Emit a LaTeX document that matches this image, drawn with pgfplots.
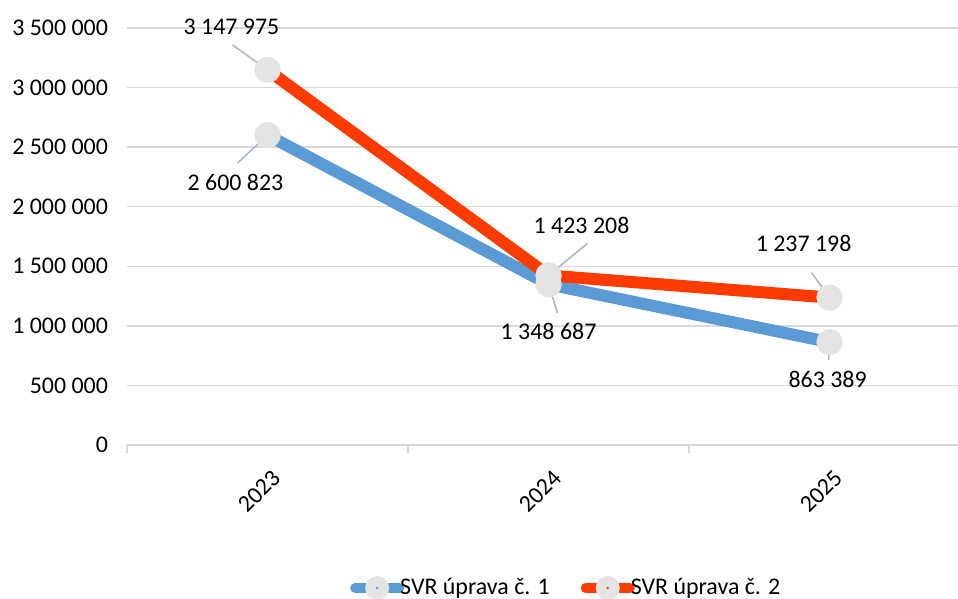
\documentclass[border=0pt]{standalone}
\usepackage{pgfplots}
\pgfplotsset{compat=1.18}
\usepackage{fontspec}
\setmainfont{Carlito}
\usetikzlibrary{calc}
\definecolor{sblue}{HTML}{5B9BD5}
\definecolor{sred}{HTML}{FF3B00}
\definecolor{mgray}{HTML}{E4E4E4}
\definecolor{gridc}{HTML}{D9D9D9}
\definecolor{lead}{HTML}{A9B6C8}
\newcommand{\lbl}{\fontsize{12}{14}\selectfont}
\begin{document}
\begin{tikzpicture}
\begin{axis}[
  scale only axis, width=415.5bp, height=208.5bp,
  xmin=-0.5, xmax=2.457, ymin=0, ymax=3500000,
  clip=false,
  axis x line*=bottom, axis y line*=left,
  y axis line style={draw=none},
  x axis line style={gridc, line width=0.75bp},
  ymajorgrids, grid style={gridc, line width=0.75bp},
  ytick={0,500000,1000000,1500000,2000000,2500000,3000000,3500000},
  yticklabels={0,500 000,1 000 000,1 500 000,2 000 000,2 500 000,3 000 000,3 500 000},
  scaled y ticks=false,
  ytick style={draw=none},
  yticklabel style={anchor=east, xshift=-6bp},
  xtick={0,1,2}, xticklabels={2023,2024,2025},
  xtick style={draw=none},
  xticklabel style={rotate=45, anchor=north east, xshift=-3.6bp, yshift=-6.1bp},
  extra x ticks={-0.5,0.5,1.5,2.5}, extra x tick labels={},
  extra x tick style={tick align=outside, major tick length=4bp, xtick style={draw=gridc, line width=0.75bp}, xmajorgrids=false},
  every tick label/.append style={font=\lbl, text=black},
  legend style={at={(0.528,-0.343)}, anchor=center, draw=none, fill=none, font=\lbl,
    nodes={inner sep=0.5bp},
    legend columns=2, /tikz/every even column/.append style={column sep=15bp}},
]
\addplot[sblue, line width=6bp, line cap=round, line join=round, mark=*, mark size=6.5bp,
  mark options={draw=mgray, fill=mgray, line width=0.1bp},
  legend image code/.code={\path[draw=sblue, line width=5bp, line cap=round] (0bp,0bp) -- (22bp,0bp);
    \path[fill=mgray, draw=none] (11bp,0bp) circle (6bp); \path[fill=sblue, draw=none] (11bp,0bp) circle (0.7bp);}]
  coordinates {(0,2600823) (1,1348687) (2,863389)};
\addlegendentry{\hspace{-2.5bp}SVR úprava č. 1}
\addplot[sred, line width=6bp, line cap=round, line join=round, mark=*, mark size=6.5bp,
  mark options={draw=mgray, fill=mgray, line width=0.1bp},
  legend image code/.code={\path[draw=sred, line width=5bp, line cap=round] (0bp,0bp) -- (22bp,0bp);
    \path[fill=mgray, draw=none] (11bp,0bp) circle (6bp); \path[fill=sred, draw=none] (11bp,0bp) circle (0.7bp);}]
  coordinates {(0,3147975) (1,1423208) (2,1237198)};
\addlegendentry{\hspace{-2.5bp}SVR úprava č. 2}
% leader lines
\draw[lead, line width=0.75bp] (axis cs:0,3147975) -- ++(-17.5bp,12.5bp);
\draw[lead, line width=0.75bp] (axis cs:0,2600823) -- ++(-15bp,-14bp);
\draw[lead, line width=0.75bp] (axis cs:1,1423208) -- ++(19.5bp,16bp);
\draw[lead, line width=0.75bp] (axis cs:1,1348687) -- ++(4.5bp,-14.5bp);
\draw[lead, line width=0.75bp] (axis cs:2,1237198) -- ++(-9bp,12.5bp);
\draw[lead, line width=0.75bp] (axis cs:2,863389) -- ++(-0.5bp,-9bp);
% data labels
\node[font=\lbl, xshift=-18bp, yshift=21.5bp] at (axis cs:0,3147975) {3 147 975};
\node[font=\lbl, xshift=-16bp, yshift=-23.5bp] at (axis cs:0,2600823) {2 600 823};
\node[font=\lbl, xshift=16.5bp, yshift=25bp] at (axis cs:1,1423208) {1 423 208};
\node[font=\lbl, xshift=0bp, yshift=-23.5bp] at (axis cs:1,1348687) {1 348 687};
\node[font=\lbl, xshift=-13bp, yshift=27bp] at (axis cs:2,1237198) {1 237 198};
\node[font=\lbl, xshift=-1bp, yshift=-18.5bp] at (axis cs:2,863389) {863 389};
\coordinate (bl) at (axis cs:-0.5,0);
\end{axis}
\pgfresetboundingbox
\path ($(bl)+(-63.5bp,-77bp)$) rectangle ($(bl)+(415.5bp,222.5bp)$);
\end{tikzpicture}
\end{document}
